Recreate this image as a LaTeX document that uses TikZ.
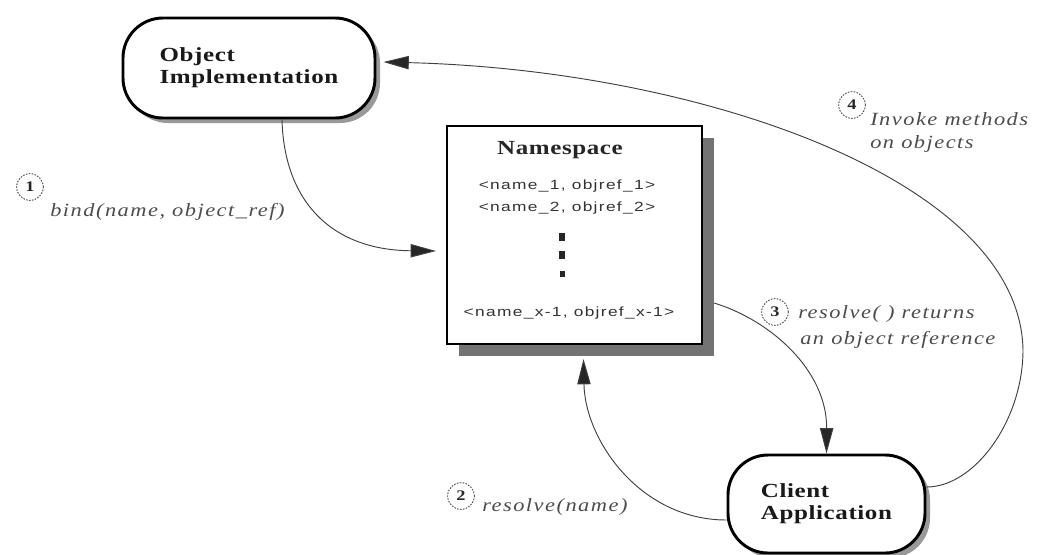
\documentclass[tikz,border=0pt]{standalone}
\usepackage{fontspec}
\setmainfont{Liberation Serif}
% wide, slightly spaced faces for box titles, arrow labels and table entries
\newfontfamily\boxfont[FakeStretch=1.25,LetterSpace=3]{Liberation Serif}
\newfontfamily\lblfont[FakeStretch=1.2,LetterSpace=8]{Liberation Serif}
\newfontfamily\entryfont[FakeStretch=1.3,LetterSpace=10]{Liberation Sans}
\usetikzlibrary{arrows.meta,calc,shadows}

\begin{document}
\begin{tikzpicture}[x=0.75pt,y=-0.75pt,
  stadium/.style={draw=black, line width=2.2pt, fill=white, rounded corners=30pt,
    inner sep=0pt, align=left, text=black!90,
    font=\boxfont\bfseries\fontsize{15}{16.5}\selectfont,
    drop shadow={shadow xshift=3.75pt, shadow yshift=-3.75pt, opacity=1, fill=black!40}},
  nsbox/.style={draw=black, line width=1.5pt, fill=white, inner sep=0pt,
    minimum width=191.25pt, minimum height=163.5pt,
    drop shadow={shadow xshift=9pt, shadow yshift=-9pt, opacity=1, fill=black!55}},
  nstitle/.style={font=\boxfont\bfseries\fontsize{15}{16.5}\selectfont, text=black!85, inner sep=0pt},
  entry/.style={font=\entryfont\fontsize{10}{12}\selectfont, text=black!80, inner sep=0pt},
  conn/.style={draw=black!75, line width=0.7pt,
    -{Triangle[length=19pt,width=10pt,fill=black!85]}},
  numcirc/.style={circle, draw=black!70, dash pattern=on 1.2pt off 1pt, line width=0.7pt,
    minimum size=20pt, inner sep=0pt, text=black!85,
    font=\boxfont\bfseries\fontsize{11}{11}\selectfont},
  steplabel/.style={anchor=west, align=left, inner sep=0pt, text=black!70,
    font=\lblfont\itshape\fontsize{14}{18}\selectfont}
]
\useasboundingbox (0,0) rectangle (1040,554);

% the three parties
\node[stadium, minimum width=189pt, minimum height=75pt] (oi) at (249,68)
  {Object\\Implementation};
\node[nsbox] (ns) at (574.5,235) {};
\node[stadium, minimum width=147.75pt, minimum height=73.5pt] (cl) at (826.5,504)
  {Client\\Application};

% contents of the namespace table
\node[nstitle] (nst) at (560,150) {Namespace};
\node[entry] (e1) at (567,186) {<name\_1, objref\_1>};
\node[entry] (e2) at (567,208) {<name\_2, objref\_2>};
\fill[black!85] (559,233) rectangle (565,241);
\fill[black!85] (559,251) rectangle (565,259);
\fill[black!85] (560,271) rectangle (565,277);
\node[entry] (ex) at (569,313) {<name\_x-1, objref\_x-1>};

% 1: bind
\draw[conn] ($(oi.south)+(33,0)$) .. controls (284,200) and (330,250) .. ($(ns.west)+(-10,16)$);
% 2: resolve
\draw[conn] ($(cl.west)+(0,16)$) .. controls (640,520) and (585,440) .. ($(ns.south)+(9,14)$);
% 3: reference returned
\draw[conn] ($(ns.east)+(11,68)$) .. controls (770,320) and (827,370) .. (cl.north);
% 4: invocation, looping round the right side
\coordinate (turn) at (1023,350);
\draw[conn] ($(cl.east)+(0,-17)$) .. controls (975,487) and (1023,420) .. (turn)
  .. controls (1020,180) and (700,70) .. ($(oi.east)+(7,-6)$);

% step numbers and their labels
\node[numcirc] (n1) at (30,187) {1};
\node[steplabel] (l1) at (50,212) {bind(name, object\_ref)};
\node[numcirc] (n2) at (461,496) {2};
\node[steplabel] (l2) at (482,507) {resolve(name)};
\node[numcirc] (n3) at (775,312) {3};
\node[steplabel, font=\lblfont\itshape\fontsize{14}{20}\selectfont] (l3) at (798,327)
  {resolve( ) returns\\\hspace*{1.5pt}an object reference};
\node[numcirc] (n4) at (852,105) {4};
\node[steplabel, font=\lblfont\itshape\fontsize{14}{17}\selectfont] (l4) at (870,132.5)
  {Invoke methods\\on objects};
\end{tikzpicture}
\end{document}
